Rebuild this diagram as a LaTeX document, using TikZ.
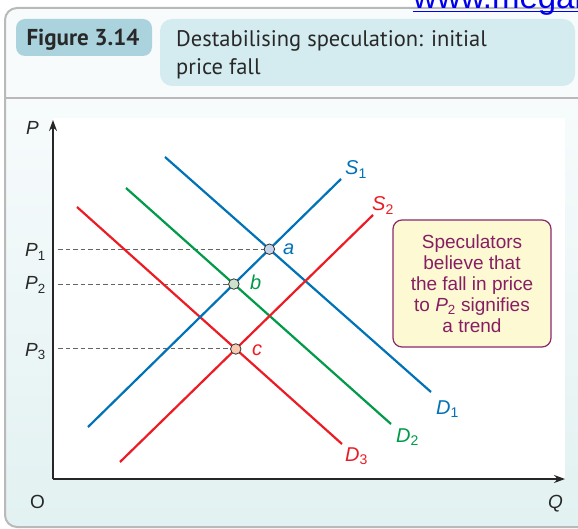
\documentclass[tikz,border=0pt]{standalone}
\usepackage{fontspec}
\setmainfont{Liberation Sans}
\newfontfamily\hdrfont{PT Sans}
\usetikzlibrary{arrows.meta}
\definecolor{cblue}{RGB}{0,114,184}
\definecolor{cgreen}{RGB}{0,155,72}
\definecolor{cred}{RGB}{237,28,36}
\definecolor{framegray}{RGB}{185,185,185}
\definecolor{figboxc}{RGB}{170,211,222}
\definecolor{titleboxc}{RGB}{212,236,240}
\definecolor{hdrbg}{RGB}{248,251,252}
\definecolor{paneltop}{RGB}{247,251,252}
\definecolor{panelbot}{RGB}{226,241,241}
\definecolor{calloutfill}{RGB}{253,249,210}
\definecolor{calloutdraw}{RGB}{140,40,110}
\definecolor{callouttext}{RGB}{135,30,100}
\definecolor{dashgray}{RGB}{100,100,100}
\definecolor{afill}{RGB}{196,212,234}
\definecolor{bfill}{RGB}{205,226,205}
\definecolor{cfill}{RGB}{248,202,178}
\definecolor{linkblue}{RGB}{0,0,238}
\definecolor{txt}{RGB}{40,40,40}
\newcommand\lbsub[2]{\textit{#1}\textsubscript{#2}}
\begin{document}
\begin{tikzpicture}[x=1pt,y=-1pt,
  curve/.style={line width=2.2pt},
  guide/.style={draw=dashgray, line width=1pt, dash pattern=on 4.5pt off 3pt},
  eqpt/.style={circle, draw=black!80, line width=0.8pt, minimum size=10.5pt, inner sep=0pt},
  lbl/.style={font=\fontsize{19}{22}\selectfont, inner sep=0pt, anchor=base west},
  clbl/.style={font=\fontsize{20}{24}\selectfont, inner sep=0pt, anchor=base west},
  axisline/.style={line width=1.3pt, draw=black!85, -{Stealth[length=11pt,width=8pt]}},
  hdrtext/.style={font=\hdrfont\fontsize{22.5}{26}\selectfont, text=txt, inner sep=0pt, anchor=base west},
]
\useasboundingbox (0,0) rectangle (578,529);
\clip (0,0) rectangle (578,529);
\fill[white] (0,0) rectangle (578,529);
% frame backgrounds
\begin{scope}
  \clip[rounded corners=12pt] (5,8) rectangle (620,527);
  \fill[hdrbg] (0,0) rectangle (620,98);
  \shade[top color=paneltop, bottom color=panelbot] (0,98) rectangle (620,529);
  \fill[white] (53,118) rectangle (565,479);
\end{scope}
\draw[framegray, line width=2pt, rounded corners=12pt] (5,8) rectangle (620,527);
\draw[framegray, line width=2pt] (5,98) -- (620,98);
% link
\node[anchor=base west, text=linkblue, font=\fontsize{33}{36}\selectfont, inner sep=0pt] (link) at (413,9) {www.megalecture.com};
\coordinate (ul) at (413,11.5);
\draw[linkblue, line width=1.5pt] (ul) -- ++(200,0);
% header
\node[fill=figboxc, rounded corners=9pt, minimum width=136pt, minimum height=37pt, inner sep=0pt] (figbox) at (84,37.5) {};
\node[hdrtext, font=\hdrfont\bfseries\fontsize{23}{26}\selectfont, anchor=base] (figlabel) at (83,45.7) {Figure 3.14};
\node[fill=titleboxc, rounded corners=12pt, minimum width=415pt, minimum height=67pt, inner sep=0pt] (titlebox) at (367.5,52.5) {};
\node[hdrtext] (title1) at (176,47) {Destabilising speculation: initial};
\node[hdrtext] (title2) at (176,75) {price fall};
% axes
\coordinate (orig) at (53,479);
\coordinate (ytip) at (53,120);
\coordinate (xtip) at (565,479);
\draw[axisline] (orig) -- (ytip);
\draw[axisline] (orig) -- (xtip);
\node[lbl, text=txt] (plab) at (26,135) {\textit{P}};
\node[lbl, text=txt] (olab) at (30,508) {O};
\node[lbl, text=txt] (qlab) at (548,508) {\textit{Q}};
% curve ends
\coordinate (D1s) at (165,157); \coordinate (D1e) at (431,392);
\coordinate (D2s) at (126,188); \coordinate (D2e) at (391,424);
\coordinate (D3s) at (77,207);  \coordinate (D3e) at (342,444);
\coordinate (S1s) at (88,427);  \coordinate (S1e) at (341,179);
\coordinate (S2s) at (120,462); \coordinate (S2e) at (373,215);
\coordinate (a) at (intersection of D1s--D1e and S1s--S1e);
\coordinate (b) at (intersection of D2s--D2e and S1s--S1e);
\coordinate (c) at (intersection of D3s--D3e and S2s--S2e);
\coordinate (gx) at (58,0);
% guides
\draw[guide] (gx |- a) -- (a);
\draw[guide] (gx |- b) -- (b);
\draw[guide] (gx |- c) -- (c);
\node[lbl, text=txt] (p1) at (25,257) {\lbsub{P}{1}};
\node[lbl, text=txt] (p2) at (25,290) {\lbsub{P}{2}};
\node[lbl, text=txt] (p3) at (25,356) {\lbsub{P}{3}};
% curves
\draw[curve, cblue] (D1s) -- (D1e);
\draw[curve, cgreen] (D2s) -- (D2e);
\draw[curve, cred] (D3s) -- (D3e);
\draw[curve, cblue] (S1s) -- (S1e);
\draw[curve, cred] (S2s) -- (S2e);
% curve labels
\node[clbl, text=cblue] (s1lab) at (345,175) {\lbsub{S}{1}};
\node[clbl, text=cred] (s2lab) at (372,211) {\lbsub{S}{2}};
\node[clbl, text=cblue] (d1lab) at (436,414) {\lbsub{D}{1}};
\node[clbl, text=cgreen] (d2lab) at (396,442) {\lbsub{D}{2}};
\node[clbl, text=cred] (d3lab) at (345,461) {\lbsub{D}{3}};
% equilibrium points
\node[eqpt, fill=afill] (pa) at (a) {};
\node[eqpt, fill=bfill] (pb) at (b) {};
\node[eqpt, fill=cfill] (pc) at (c) {};
\node[clbl, text=cblue] (alab) at (283,255) {\textit{a}};
\node[clbl, text=cgreen] (blab) at (250,289) {\textit{b}};
\node[clbl, text=cred] (clab) at (252,355) {\textit{c}};
% callout
\node[draw=calloutdraw, fill=calloutfill, line width=1.2pt, rounded corners=9pt,
      minimum width=158pt, minimum height=127pt, align=center, text=callouttext,
      font=\fontsize{19}{21}\selectfont, inner sep=0pt] (note) at (472,283.5)
  {Speculators\\believe that\\the fall in price\\to \lbsub{P}{2} signifies\\a trend};
\end{tikzpicture}
\end{document}
